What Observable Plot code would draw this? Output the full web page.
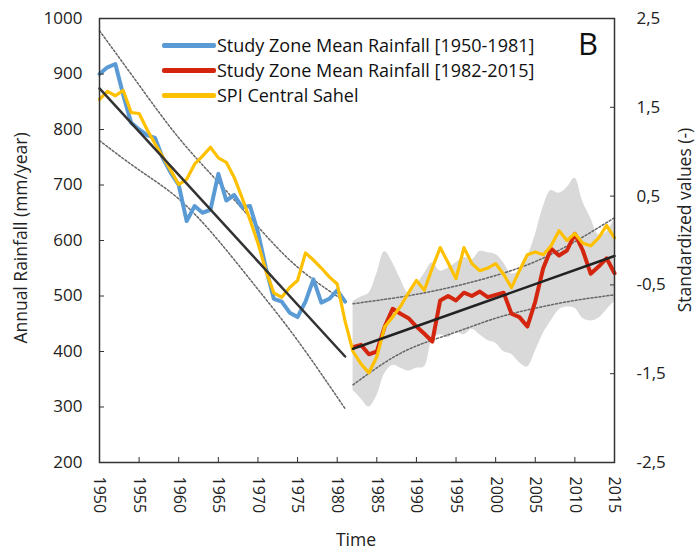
<!DOCTYPE html>
<html><head><meta charset="utf-8">
<script src="https://cdn.jsdelivr.net/npm/d3@7"></script>
<script src="https://cdn.jsdelivr.net/npm/@observablehq/plot@0.6"></script>
<style>
body{margin:0;background:#fff;}
#wrap{position:relative;width:696px;height:551px;font-family:"Open Sans",sans-serif;color:#222;}
.leg{position:absolute;left:162px;font-size:18px;color:#111;display:flex;align-items:center;white-space:nowrap;height:24px}
.sw{display:inline-block;width:54px;height:5px;margin-right:1px;border-radius:2px}
.ttl{position:absolute;font-size:17.5px;color:#222;white-space:nowrap}
</style></head><body><div id="wrap"></div>
<script>
// ---- data ----
const yearsEarly = d3.range(1950, 1982);
const yearsLate = d3.range(1982, 2016);
const yearsAll = d3.range(1950, 2016);

const rainEarly = [900, 912, 918, 862, 812, 800, 790, 785, 748, 722, 700, 635, 662, 650, 655, 720,
  672, 682, 660, 662, 615, 550, 495, 490, 470, 462, 490, 530, 488, 495, 510, 490];

const rainLate = [408, 412, 395, 400, 445, 477, 468, 460, 445, 432, 418, 492, 500, 492, 506, 500,
  508, 498, 502, 506, 468, 462, 445, 490, 550, 585, 573, 582, 612, 582, 540, 553, 568, 541];

// SPI Central Sahel, standardized units (right axis)
const spi = [1.59, 1.68, 1.63, 1.69, 1.44, 1.43, 1.25, 1.09, 0.94, 0.79, 0.63, 0.69, 0.86, 0.95, 1.05, 0.93,
  0.88, 0.71, 0.48, 0.23, -0.03, -0.34, -0.59, -0.64, -0.53, -0.45, -0.14, -0.22, -0.31, -0.41, -0.49, -0.91,
  -1.25, -1.39, -1.49, -1.31, -0.97, -0.86, -0.74, -0.59, -0.45, -0.56, -0.31, -0.08, -0.25, -0.43, -0.08, -0.26,
  -0.34, -0.31, -0.26, -0.38, -0.53, -0.34, -0.16, -0.13, -0.16, -0.06, 0.11, 0.00, 0.08, -0.03, -0.06, 0.03, 0.17, 0.03];

// grey spread band 1982-2015
const bandHi = [490, 498, 505, 540, 580, 560, 530, 505, 520, 540, 560, 545, 550, 560, 570, 565,
  580, 578, 575, 560, 540, 545, 570, 610, 660, 690, 685, 695, 712, 670, 640, 610, 615, 640];
const bandLo = [330, 315, 300, 320, 360, 375, 370, 365, 370, 372, 420, 430, 425, 435, 430, 440,
  430, 420, 415, 400, 395, 380, 372, 400, 432, 455, 475, 480, 478, 460, 455, 460, 475, 490];

// linear trends
const trendEarlyYears = [1950, 1981];
const trendEarlyVals = [874, 391];
const trendLateYears = [1982, 2015];
const trendLateVals = [405, 572];

// confidence curves (dotted)
const ciEarlyYears = [1950, 1955, 1960, 1965, 1970, 1975, 1981];
const ciEarlyHi = [978, 880, 785, 705, 625, 552, 490];
const ciEarlyLo = [780, 727, 675, 600, 512, 420, 297];
const ciLateYears = [1982, 1986, 1990, 1995, 2000, 2005, 2010, 2015];
const ciLateHi = [486, 494, 503, 518, 537, 562, 598, 641];
const ciLateLo = [340, 380, 410, 435, 460, 478, 492, 502];

// axes
const leftTicks = [200, 300, 400, 500, 600, 700, 800, 900, 1000];
const rightTickValues = [2.5, 1.5, 0.5, -0.5, -1.5, -2.5];
const rightTickLabels = ["2,5", "1,5", "0,5", "-0,5", "-1,5", "-2,5"];
const xTicks = [1950, 1955, 1960, 1965, 1970, 1975, 1980, 1985, 1990, 1995, 2000, 2005, 2010, 2015];

// ---- build ----
const spiToMm = s => 600 + 160 * s; // right axis: 2.5 ↔ 1000, -2.5 ↔ 200
const blue = yearsEarly.map((t, i) => ({t, v: rainEarly[i]}));
const red = yearsLate.map((t, i) => ({t, v: rainLate[i]}));
const yel = yearsAll.map((t, i) => ({t, v: spiToMm(spi[i])}));
const band = yearsLate.map((t, i) => ({t, lo: bandLo[i], hi: bandHi[i]}));
const tE = trendEarlyYears.map((t, i) => ({t, v: trendEarlyVals[i]}));
const tL = trendLateYears.map((t, i) => ({t, v: trendLateVals[i]}));
const cEH = ciEarlyYears.map((t, i) => ({t, v: ciEarlyHi[i]}));
const cEL = ciEarlyYears.map((t, i) => ({t, v: ciEarlyLo[i]}));
const cLH = ciLateYears.map((t, i) => ({t, v: ciLateHi[i]}));
const cLL = ciLateYears.map((t, i) => ({t, v: ciLateLo[i]}));
const rightPos = rightTickValues.map(spiToMm);
const rightLab = new Map(rightPos.map((p, i) => [p, rightTickLabels[i]]));

const dotted = {x: "t", y: "v", stroke: "#666", strokeWidth: 1.5, strokeDasharray: "2,2", curve: "natural"};

const chart = Plot.plot({
  width: 696, height: 551,
  marginLeft: 99, marginRight: 82, marginTop: 18, marginBottom: 89,
  style: {fontFamily: "Open Sans, sans-serif", fontSize: "16px", color: "#222", background: "white", overflow: "visible"},
  x: {domain: [1950, 2015]},
  y: {domain: [200, 1000]},
  marks: [
    Plot.areaY(band, {x: "t", y1: "lo", y2: "hi", fill: "#d9d9d9", curve: "catmull-rom"}),
    Plot.line(cEH, dotted),
    Plot.line(cEL, dotted),
    Plot.line(cLH, dotted),
    Plot.line(cLL, dotted),
    Plot.line(blue, {x: "t", y: "v", stroke: "#5b9bd5", strokeWidth: 4, strokeLinejoin: "round"}),
    Plot.line(red, {x: "t", y: "v", stroke: "#d4260f", strokeWidth: 4, strokeLinejoin: "round"}),
    Plot.line(yel, {x: "t", y: "v", stroke: "#ffc000", strokeWidth: 3.2, strokeLinejoin: "round"}),
    Plot.line(tE, {x: "t", y: "v", stroke: "#333", strokeWidth: 2.5}),
    Plot.line(tL, {x: "t", y: "v", stroke: "#222", strokeWidth: 2.5}),
    Plot.frame({stroke: "#333", strokeWidth: 1.5}),
    Plot.axisY({anchor: "left", ticks: leftTicks, tickFormat: d => String(d), tickSize: 0, tickPadding: 17, label: null, fontSize: 17}),
    Plot.axisY({anchor: "left", ticks: leftTicks, tickSize: 5, dx: 5, text: null, label: null, stroke: "#333"}),
    Plot.axisY({anchor: "right", ticks: rightPos, tickFormat: d => rightLab.get(d), tickSize: 0, tickPadding: 22, label: null, fontSize: 17}),
    Plot.axisY({anchor: "right", ticks: rightPos, tickSize: 5, dx: -5, text: null, label: null, stroke: "#333"}),
    Plot.axisX({anchor: "bottom", ticks: xTicks, tickFormat: d => String(d), tickRotate: 90, tickSize: 0, tickPadding: 14, label: null, fontSize: 16}),
    Plot.axisX({anchor: "bottom", ticks: xTicks, tickSize: 5, dy: -5, text: null, label: null, stroke: "#333"})
  ]
});

const wrap = document.getElementById("wrap");
wrap.appendChild(chart);

const legendItems = [
  {label: "Study Zone Mean Rainfall [1950-1981]", color: "#5b9bd5", top: 33},
  {label: "Study Zone Mean Rainfall [1982-2015]", color: "#d4260f", top: 58},
  {label: "SPI Central Sahel", color: "#ffc000", top: 83}
];
for (const it of legendItems) {
  const d = document.createElement("div");
  d.className = "leg";
  d.style.top = it.top + "px";
  d.innerHTML = `<span class="sw" style="background:${it.color}"></span><span>${it.label}</span>`;
  wrap.appendChild(d);
}
function addText(txt, css) {
  const d = document.createElement("div");
  d.className = "ttl";
  d.textContent = txt;
  Object.assign(d.style, css);
  wrap.appendChild(d);
}
addText("B", {left: "578px", top: "22px", fontSize: "31px", color: "#111"});
addText("Time", {left: "356px", top: "527px", transform: "translateX(-50%)"});
addText("Annual Rainfall (mm/year)", {left: "20px", top: "238px", transform: "translate(-50%,-50%) rotate(-90deg)"});
addText("Standardized values (-)", {left: "684px", top: "220px", transform: "translate(-50%,-50%) rotate(-90deg)"});
</script>
</body></html>
